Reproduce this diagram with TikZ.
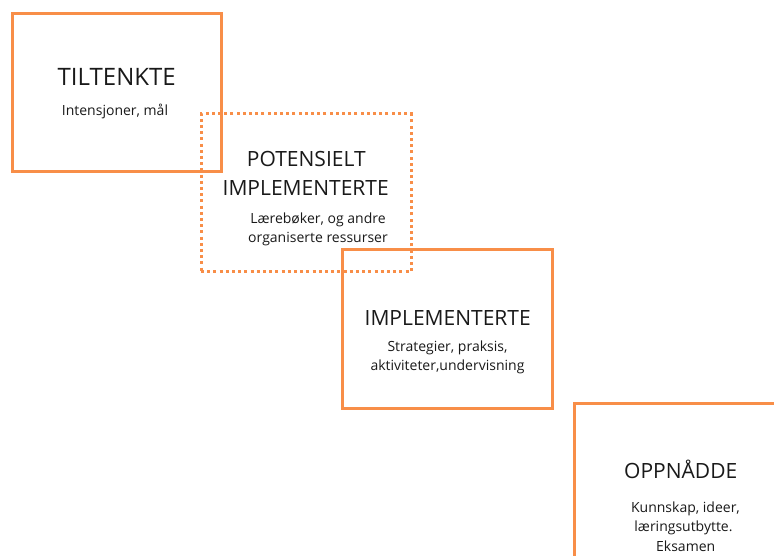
\documentclass[tikz,border=0pt]{standalone}
\usepackage{fontspec}
\setmainfont{Open Sans}
\definecolor{boxorange}{RGB}{248,142,72}
\tikzset{
  x=1pt,y=-1pt,
  framebox/.style={draw=boxorange,line width=3pt,inner sep=0pt,outer sep=0pt},
  dotbox/.style={draw=boxorange,line width=3pt,dash pattern=on 3pt off 3.2pt,inner sep=0pt,outer sep=0pt},
  head/.style={anchor=base,inner sep=0pt,font=\fontsize{21}{25}\selectfont,text=black!90},
  bighead/.style={head,font=\fontsize{24}{28}\selectfont},
  sub/.style={anchor=base,inner sep=0pt,font=\fontsize{14}{17}\selectfont,text=black!90}
}
\begin{document}
\begin{tikzpicture}
\useasboundingbox (0,0) rectangle (774,556);
% boxes
\node[framebox,minimum width=209.5pt,minimum height=158.5pt] (b1) at (116.75,92.75) {};
\node[dotbox,minimum width=210pt,minimum height=158pt] (b2) at (306,193) {};
\node[framebox,minimum width=210pt,minimum height=158.5pt] (b3) at (447.5,328.75) {};
\node[framebox,minimum width=260pt,minimum height=220pt] (b4) at (704.7,513.3) {};
% texts
\node[bighead] (t1) at (116.7,86) {TILTENKTE};
\node[sub] (s1) at (115,116) {Intensjoner, mål};
\node[head] (t2a) at (306.3,166.7) {POTENSIELT};
\node[head] (t2b) at (305.7,196) {IMPLEMENTERTE};
\node[sub] (s2a) at (318,224) {Lærebøker, og andre};
\node[sub] (s2b) at (318,243) {organiserte ressurser};
\node[head] (t3) at (447.7,325) {IMPLEMENTERTE};
\node[sub] (s3a) at (447.5,351.7) {Strategier, praksis,};
\node[sub] (s3b) at (447.5,370.7) {aktiviteter,undervisning};
\node[head] (t4) at (680.7,478.3) {OPPNÅDDE};
\node[sub] (s4a) at (685.5,512.7) {Kunnskap, ideer,};
\node[sub] (s4b) at (683.5,531) {læringsutbytte.};
\node[sub] (s4c) at (685.7,551) {Eksamen};
\end{tikzpicture}
\end{document}
